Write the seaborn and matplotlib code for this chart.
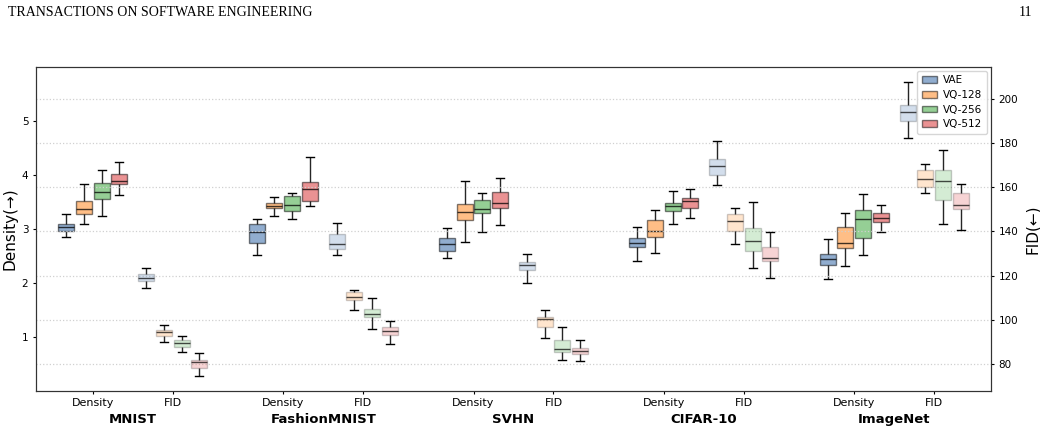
import pandas as pd
import seaborn as sns
import matplotlib.pyplot as plt
from matplotlib.patches import Patch

# data: [low whisker, q1, median, q3, high whisker] per dataset
datasets = ["MNIST", "FashionMNIST", "SVHN", "CIFAR-10", "ImageNet"]
models = ["VAE", "VQ-128", "VQ-256", "VQ-512"]
colors = ["#255da1", "#ff7f0e", "#2ca02c", "#d62728"]

density_vae = [[2.86, 2.96, 3.03, 3.10, 3.28],
               [2.52, 2.74, 2.94, 3.09, 3.19],
               [2.46, 2.60, 2.72, 2.83, 3.02],
               [2.41, 2.66, 2.75, 2.83, 3.04],
               [2.08, 2.34, 2.44, 2.54, 2.82]]
density_vq128 = [[3.10, 3.28, 3.37, 3.52, 3.83],
                 [3.25, 3.38, 3.43, 3.49, 3.59],
                 [2.76, 3.17, 3.32, 3.46, 3.89],
                 [2.56, 2.86, 2.96, 3.17, 3.35],
                 [2.31, 2.65, 2.75, 3.04, 3.30]]
density_vq256 = [[3.25, 3.56, 3.69, 3.86, 4.10],
                 [3.18, 3.33, 3.44, 3.61, 3.67],
                 [2.94, 3.29, 3.37, 3.54, 3.67],
                 [3.09, 3.33, 3.42, 3.49, 3.71],
                 [2.52, 2.83, 3.19, 3.35, 3.65]]
density_vq512 = [[3.63, 3.83, 3.89, 4.02, 4.25],
                 [3.43, 3.52, 3.75, 3.87, 4.33],
                 [3.07, 3.38, 3.49, 3.69, 3.95],
                 [3.20, 3.38, 3.52, 3.57, 3.75],
                 [2.94, 3.13, 3.20, 3.30, 3.45]]

fid_vae = [[114.4, 117.7, 119.1, 120.8, 123.6],
           [129.4, 132.1, 134.2, 139.0, 143.8],
           [116.5, 122.4, 124.8, 126.3, 129.8],
           [160.9, 165.6, 169.5, 172.7, 181.0],
           [182.3, 189.9, 194.2, 197.1, 207.6]]
fid_vq128 = [[90.0, 92.7, 94.5, 95.4, 97.8],
             [104.3, 108.8, 110.3, 112.5, 113.5],
             [91.9, 96.6, 100.2, 101.4, 104.5],
             [134.3, 140.2, 144.6, 148.1, 150.8],
             [157.3, 160.2, 163.9, 168.0, 170.6]]
fid_vq256 = [[85.3, 87.6, 89.4, 90.7, 92.8],
             [95.7, 101.1, 102.8, 104.9, 110.0],
             [81.8, 85.4, 86.8, 91.0, 96.9],
             [123.5, 131.2, 135.7, 141.4, 153.5],
             [143.5, 154.4, 162.9, 167.7, 177.0]]
fid_vq512 = [[74.6, 78.3, 80.8, 81.8, 84.8],
             [89.2, 93.3, 95.1, 96.6, 99.6],
             [81.4, 84.4, 85.7, 87.1, 91.0],
             [118.8, 126.5, 128.1, 132.8, 139.9],
             [140.8, 150.1, 151.9, 157.3, 161.4]]

density_all = [density_vae, density_vq128, density_vq256, density_vq512]
fid_all = [fid_vae, fid_vq128, fid_vq256, fid_vq512]

# layout of the groups on the x axis
group_step = 2.38
box_step = 0.221


def long_table(stats, shift):
    rows = []
    for j, model in enumerate(models):
        for i in range(len(datasets)):
            pos = round(i * group_step + shift + (j - 1.5) * box_step, 4)
            for v in stats[j][i]:
                rows.append({"pos": pos, "value": v, "model": model})
    return pd.DataFrame(rows)


dens_df = long_table(density_all, 0.0)
fid_df = long_table(fid_all, 1.0)
pal = dict(zip(models, colors))

fig = plt.figure(figsize=(10.4, 4.33), dpi=100)
ax = fig.add_axes([36 / 1040, 1 - 391 / 433, 955 / 1040, 324 / 433])
ax2 = ax.twinx()

common = dict(x="pos", y="value", hue="model", hue_order=models, palette=pal,
              native_scale=True, dodge=False, whis=(0, 100), width=0.9,
              saturation=1, linecolor="black", linewidth=1.0, showfliers=False,
              legend=False)

sns.boxplot(data=dens_df, ax=ax, boxprops=dict(alpha=0.5),
            whiskerprops=dict(alpha=0.85), medianprops=dict(alpha=0.75), **common)
sns.boxplot(data=fid_df, ax=ax2, boxprops=dict(alpha=0.2),
            whiskerprops=dict(alpha=0.85), medianprops=dict(alpha=0.7), **common)

x_left = -1.5 * box_step - 0.38
x_right = (len(datasets) - 1) * group_step + 1 + 1.5 * box_step + 0.38
ax.set_xlim(x_left, x_right)
ax2.set_xlim(x_left, x_right)

ax.set_ylim(0, 6)
ax.set_yticks([1, 2, 3, 4, 5])
ax2.set_ylim(67.8, 214.4)
ax2.set_yticks([80, 100, 120, 140, 160, 180, 200])
ax2.yaxis.grid(True, linestyle=":", color="#d0d0d0", linewidth=0.9)

tick_pos = []
tick_lab = []
for i in range(len(datasets)):
    tick_pos += [i * group_step, i * group_step + 1]
    tick_lab += ["Density", "FID"]
ax.set_xticks(tick_pos)
ax.set_xticklabels(tick_lab, fontsize=8)
ax.tick_params(axis="x", length=2.5, pad=2.5)
ax.tick_params(axis="y", labelsize=7.5, length=2.5, pad=3)
ax2.tick_params(axis="y", labelsize=7.5, length=2.5, pad=3)
ax.set_xlabel("")
ax.set_ylabel("Density(→)", fontsize=11, labelpad=3)
ax2.set_ylabel("FID(←)", fontsize=11, labelpad=5)

for i, name in enumerate(datasets):
    ax.text(i * group_step + 0.5, -0.088, name, transform=ax.get_xaxis_transform(),
            ha="center", va="center", fontsize=9.5, fontweight="bold")

for a in (ax, ax2):
    for s in a.spines.values():
        s.set_color("#333333")

handles = [Patch(facecolor=c, edgecolor="black", alpha=0.5, label=m)
           for m, c in zip(models, colors)]
ax2.legend(handles=handles, loc="upper right", fontsize=7.5, borderaxespad=0.35,
           handlelength=1.5, handleheight=0.6, handletextpad=0.6,
           labelspacing=0.45, borderpad=0.45)

fig.text(8 / 1040, 1 - 12 / 433, "TRANSACTIONS ON SOFTWARE ENGINEERING",
         family="Liberation Serif", fontsize=10, va="center")
fig.text(1032 / 1040, 1 - 12 / 433, "11", family="Liberation Serif",
         fontsize=10, va="center", ha="right")

plt.savefig("out.png", dpi=100)
